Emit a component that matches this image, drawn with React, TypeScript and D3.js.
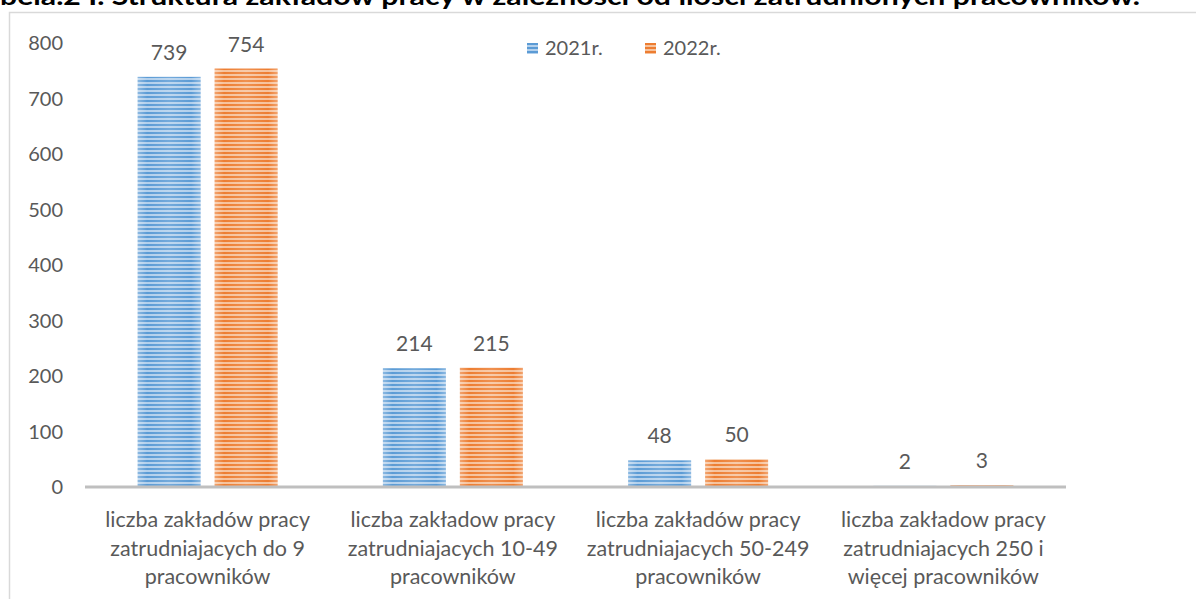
import React from 'react';
import * as d3 from 'd3';

const categories = [
  ['liczba zakładów pracy', 'zatrudniajacych do 9', 'pracowników'],
  ['liczba zakładow pracy', 'zatrudniajacych 10-49', 'pracowników'],
  ['liczba zakładów pracy', 'zatrudniajacych 50-249', 'pracowników'],
  ['liczba zakładow pracy', 'zatrudniajacych 250 i', 'więcej pracowników'],
];
const seriesNames = ['2021r.', '2022r.'];
const values2021 = [739, 214, 48, 2];
const values2022 = [754, 215, 50, 3];
const yTicks = [0, 100, 200, 300, 400, 500, 600, 700, 800];
const title = 'bela.2 I. Struktura zakładów pracy w zależności od ilości zatrudnionych pracowników.';

const W = 1196;
const H = 599;
const font = 'Lato, "Open Sans", sans-serif';
const textColor = '#595959';
const colors = { dark: ['#5b9bd5', '#ed7d31'], light: ['#b3d0ec', '#f6c29c'] };

export default function App() {
  const plot = { left: 85, right: 1066, top: 43, bottom: 487 };

  const x = d3.scaleBand<number>()
    .domain(d3.range(categories.length))
    .range([plot.left, plot.right])
    .padding(0);

  const xInner = d3.scaleBand<number>()
    .domain(d3.range(seriesNames.length))
    .range([0, x.bandwidth()])
    .paddingInner(0.182)
    .paddingOuter(0.684);

  const y = d3.scaleLinear().domain([0, 800]).range([plot.bottom, plot.top]);

  const series = [values2021, values2022];

  return (
    <div style={{ position: 'absolute', left: 0, top: 0 }}>
      <svg width={W} height={H} style={{ display: 'block', background: '#fff' }}>
        <defs>
          {[0, 1].map(s => (
            <pattern key={s} id={`stripe${s}`} width={8} height={4} patternUnits="userSpaceOnUse">
              <rect width={8} height={4} fill={colors.dark[s]} />
              <rect y={2} width={8} height={2} fill={colors.light[s]} />
            </pattern>
          ))}
          <linearGradient id="sheen" x1="0" x2="1" y1="0" y2="0">
            <stop offset="0" stopColor="#fff" stopOpacity={0.3} />
            <stop offset="0.15" stopColor="#fff" stopOpacity={0} />
            <stop offset="0.5" stopColor="#fff" stopOpacity={0.15} />
            <stop offset="0.85" stopColor="#fff" stopOpacity={0} />
            <stop offset="1" stopColor="#fff" stopOpacity={0.3} />
          </linearGradient>
        </defs>

        <text x={0} y={5} fontFamily={font} fontWeight={700} fontSize={24} fill="#000"
          textLength={1140} lengthAdjust="spacingAndGlyphs">{title}</text>

        {/* chart border */}
        <rect x={9.5} y={12.5} width={W + 10} height={H} fill="none" stroke="#d9d9d9" strokeWidth={1.5} />

        {/* y tick labels */}
        {yTicks.map(t => (
          <text key={t} x={63} y={y(t)} dy="0.35em" textAnchor="end" fontFamily={font}
            fontSize={20} fill={textColor}>{t}</text>
        ))}

        {/* bars */}
        {categories.map((_, i) => series.map((vals, s) => {
          const bx = (x(i) ?? 0) + (xInner(s) ?? 0);
          const bw = xInner.bandwidth();
          const top = y(vals[i]);
          return (
            <g key={`${i}-${s}`}>
              <rect x={bx} y={top} width={bw} height={plot.bottom - top} fill={`url(#stripe${s})`} />
              <rect x={bx} y={top} width={bw} height={plot.bottom - top} fill="url(#sheen)" />
              <text x={bx + bw / 2} y={top - 17} textAnchor="middle" fontFamily={font}
                fontSize={21} fill={textColor}>{vals[i]}</text>
            </g>
          );
        }))}

        {/* x axis line */}
        <line x1={plot.left} x2={plot.right} y1={plot.bottom} y2={plot.bottom} stroke="#bfbfbf" strokeWidth={3} />

        {/* category labels */}
        {categories.map((lines, i) => (
          <text key={i} textAnchor="middle" fontFamily={font} fontSize={21.5} fill={textColor}>
            {lines.map((ln, k) => (
              <tspan key={k} x={(x(i) ?? 0) + x.bandwidth() / 2} y={527 + k * 28.5}>{ln}</tspan>
            ))}
          </text>
        ))}

        {/* legend */}
        {seriesNames.map((name, s) => (
          <g key={name} transform={`translate(${527 + s * 118},43)`}>
            <rect width={11} height={11} fill={`url(#stripe${s})`} />
            <text x={18} y={11.5} fontFamily={font} fontSize={20} fill={textColor}>{name}</text>
          </g>
        ))}
      </svg>
    </div>
  );
}
